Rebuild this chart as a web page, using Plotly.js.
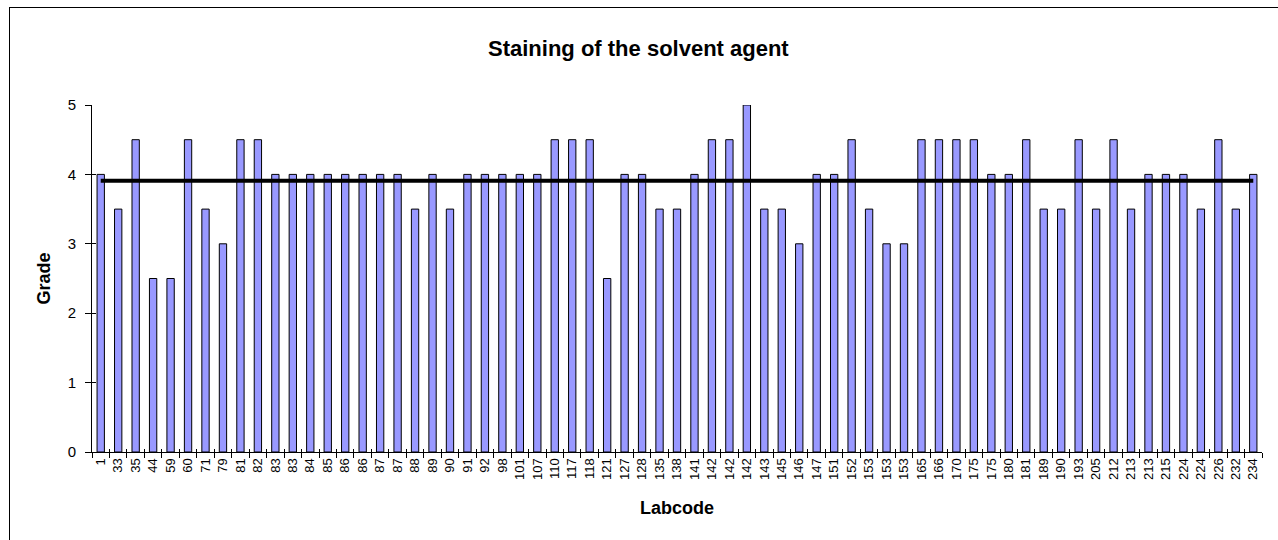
<!DOCTYPE html>
<html>
<head>
<meta charset="utf-8">
<script src="https://cdn.plot.ly/plotly-3.0.1.min.js"></script>
<style>
  html, body { margin: 0; padding: 0; background: #ffffff; }
  #frame { position: absolute; left: 9px; top: 7px; width: 1300px; height: 560px;
           border-left: 1px solid #000; border-top: 1px solid #000; }
  #chart { position: absolute; left: 0; top: 0; width: 1278px; height: 540px; }
</style>
</head>
<body>
<div id="frame"></div>
<div id="chart"></div>
<script>
// Lab codes (x categories, in display order; some repeat)
const labcodes = [
  "1","33","35","44","59","60","71","79","81","82","83","83","84","85","86","86","87","87","88","89","90","91",
  "92","98","101","107","110","117","118","121","127","128","135","138","141","142","142","142","143","145","146","147","151","152",
  "153","153","153","165","166","170","175","175","180","181","189","190","193","205","212","213","213","215","224","224","226","232","234"
];
// Grade given by each lab
const grades = [
  4,3.5,4.5,2.5,2.5,4.5,3.5,3,4.5,4.5,4,4,4,4,4,4,4,4,3.5,4,3.5,4,
  4,4,4,4,4.5,4.5,4.5,2.5,4,4,3.5,3.5,4,4.5,4.5,5,3.5,3.5,3,4,4,4.5,
  3.5,3,3,4.5,4.5,4.5,4.5,4,4,4.5,3.5,3.5,4.5,3.5,4.5,3.5,4,4,4,3.5,4.5,3.5,4
];
// Average grade (horizontal reference line)
const meanGrade = 3.91;

const yTickVals = [0,1,2,3,4,5];

// unique category keys so repeated lab codes stay separate
const xKeys = labcodes.map((c, i) => "k" + i + "_" + c);
const meanLine = xKeys.map(() => meanGrade);

const fontFam = "Liberation Sans, Arial, sans-serif";

const traces = [
  {
    type: "bar",
    x: xKeys,
    y: grades,
    marker: { color: "#9999FF", line: { color: "#000000", width: 1 } },
    hoverinfo: "y",
    showlegend: false
  },
  {
    type: "scatter",
    mode: "lines",
    x: xKeys,
    y: meanLine,
    line: { color: "#000000", width: 4 },
    hoverinfo: "y",
    showlegend: false
  },
  // invisible copy on overlay axes, only to carry the inner half of the cross tick marks
  {
    type: "scatter",
    mode: "markers",
    x: xKeys,
    y: grades,
    xaxis: "x2",
    yaxis: "y2",
    marker: { opacity: 0 },
    hoverinfo: "skip",
    showlegend: false
  }
];

const xRange = [-0.5, labcodes.length - 0.5];

const layout = {
  width: 1278,
  height: 540,
  margin: { l: 92, r: 16, t: 105, b: 88, pad: 0 },
  paper_bgcolor: "rgba(0,0,0,0)",
  plot_bgcolor: "rgba(0,0,0,0)",
  bargap: 0.58,
  font: { family: fontFam, color: "#000000" },
  title: {
    text: "<b>Staining of the solvent agent</b>",
    font: { family: fontFam, size: 22, color: "#000000" },
    x: 0.4995, xanchor: "center",
    y: 0.91, yanchor: "middle", yref: "container"
  },
  xaxis: {
    type: "category",
    tickmode: "array",
    tickvals: xKeys,
    ticktext: labcodes,
    tickangle: -90,
    tickson: "boundaries",
    ticks: "outside",
    ticklen: 5,
    tickwidth: 1,
    tickcolor: "#000000",
    tickfont: { family: fontFam, size: 13, color: "#000000" },
    showline: true,
    linecolor: "#000000",
    linewidth: 1,
    showgrid: false,
    zeroline: false,
    range: xRange,
    title: {
      text: "<b>Labcode</b>",
      font: { family: fontFam, size: 18, color: "#000000" },
      standoff: 22
    }
  },
  xaxis2: {
    type: "category",
    overlaying: "x",
    side: "bottom",
    tickmode: "array",
    tickvals: xKeys,
    tickson: "boundaries",
    ticks: "inside",
    ticklen: 3,
    tickwidth: 1,
    tickcolor: "#000000",
    showticklabels: false,
    showline: false,
    showgrid: false,
    zeroline: false,
    range: xRange
  },
  yaxis: {
    range: [0, 5],
    tickmode: "array",
    tickvals: yTickVals,
    ticktext: yTickVals.map(String),
    ticks: "outside",
    ticklen: 6,
    tickwidth: 1,
    tickcolor: "#000000",
    ticklabelstandoff: 6,
    tickfont: { family: fontFam, size: 15, color: "#000000" },
    showline: true,
    linecolor: "#000000",
    linewidth: 1,
    showgrid: false,
    zeroline: false,
    title: {
      text: "<b>Grade</b>",
      font: { family: fontFam, size: 18, color: "#000000" },
      standoff: 12
    }
  },
  yaxis2: {
    overlaying: "y",
    side: "left",
    range: [0, 5],
    tickmode: "array",
    tickvals: yTickVals,
    ticks: "inside",
    ticklen: 4,
    tickwidth: 1,
    tickcolor: "#000000",
    showticklabels: false,
    showline: false,
    showgrid: false,
    zeroline: false
  }
};

Plotly.newPlot("chart", traces, layout, { displayModeBar: false, staticPlot: true });
</script>
</body>
</html>
